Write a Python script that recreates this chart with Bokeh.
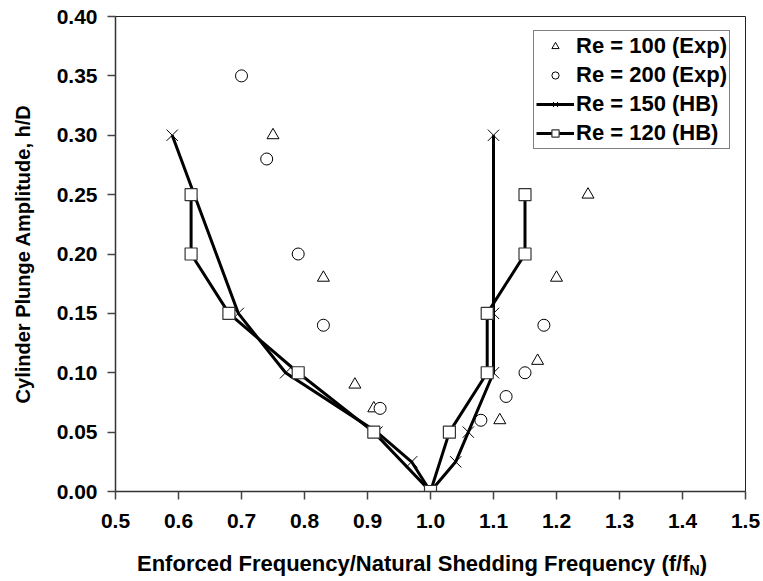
from bokeh.plotting import figure
from bokeh.models import Range1d, Legend, LegendItem, FixedTicker, NumeralTickFormatter, Div
from bokeh.layouts import column
from bokeh.embed import file_html
from bokeh.resources import INLINE

# ---- data ----
re100_x = [0.75, 0.83, 0.88, 0.91, 1.11, 1.17, 1.20, 1.25]
re100_y = [0.30, 0.18, 0.09, 0.07, 0.06, 0.11, 0.18, 0.25]

re200_x = [0.70, 0.74, 0.79, 0.83, 0.92, 1.08, 1.12, 1.15, 1.18]
re200_y = [0.35, 0.28, 0.20, 0.14, 0.07, 0.06, 0.08, 0.10, 0.14]

re150_x = [0.59, 0.695, 0.77, 0.915, 0.97, 1.00, 1.04, 1.06, 1.10, 1.10, 1.10]
re150_y = [0.30, 0.15, 0.10, 0.05, 0.025, 0.00, 0.025, 0.05, 0.10, 0.15, 0.30]

re120_x = [0.62, 0.62, 0.68, 0.79, 0.91, 1.00, 1.03, 1.09, 1.09, 1.15, 1.15]
re120_y = [0.25, 0.20, 0.15, 0.10, 0.05, 0.00, 0.05, 0.10, 0.15, 0.20, 0.25]

x_ticks = [0.5, 0.6, 0.7, 0.8, 0.9, 1.0, 1.1, 1.2, 1.3, 1.4, 1.5]
y_ticks = [0.00, 0.05, 0.10, 0.15, 0.20, 0.25, 0.30, 0.35, 0.40]

labels = ["Re = 100 (Exp)", "Re = 200 (Exp)", "Re = 150 (HB)", "Re = 120 (HB)"]
y_title = "Cylinder Plunge Amplitude, h/D"
x_title_main = "Enforced Frequency/Natural Shedding Frequency (f/f"
x_title_sub = "N"
x_title_end = ")"

FONT = "Liberation Sans"
W = 763
FIG_H = 539
DIV_H = 581 - FIG_H
LEFT, RIGHT, TOP, BOTTOM = 115, 18, 16, 48

p = figure(width=W, height=FIG_H, output_backend="svg", toolbar_location=None,
           x_range=Range1d(0.5, 1.5), y_range=Range1d(0.0, 0.4),
           min_border_left=LEFT, min_border_right=RIGHT,
           min_border_top=TOP, min_border_bottom=BOTTOM)
p.background_fill_color = "white"
p.border_fill_color = "white"
p.outline_line_color = "#222222"
p.outline_line_width = 1
p.xgrid.visible = False
p.ygrid.visible = False

for ax in (p.xaxis[0], p.yaxis[0]):
    ax.axis_line_color = "#333333"
    ax.axis_line_width = 1.5
    ax.major_tick_line_color = "#444444"
    ax.major_tick_line_width = 1.5
    ax.major_tick_in = 0
    ax.major_tick_out = 8
    ax.minor_tick_in = 0
    ax.minor_tick_out = 0
    ax.major_label_text_font = FONT
    ax.major_label_text_font_style = "bold"
    ax.major_label_text_font_size = "21px"
    ax.major_label_text_color = "black"

p.xaxis[0].ticker = FixedTicker(ticks=x_ticks)
p.xaxis[0].formatter = NumeralTickFormatter(format="0.0")
p.xaxis[0].major_label_standoff = 14
p.yaxis[0].ticker = FixedTicker(ticks=y_ticks)
p.yaxis[0].formatter = NumeralTickFormatter(format="0.00")
p.yaxis[0].major_label_standoff = 10

p.yaxis[0].axis_label = y_title
p.yaxis[0].axis_label_text_font = FONT
p.yaxis[0].axis_label_text_font_style = "bold"
p.yaxis[0].axis_label_text_font_size = "20px"
p.yaxis[0].axis_label_text_color = "black"
p.yaxis[0].axis_label_standoff = 20

# ---- series ----
r100 = p.scatter(re100_x, re100_y, marker="triangle", size=12,
                 fill_color="white", line_color="black", line_width=1)
r200 = p.scatter(re200_x, re200_y, marker="circle", size=12,
                 fill_color="white", line_color="black", line_width=1)
l150 = p.line(re150_x, re150_y, line_color="black", line_width=3)
m150 = p.scatter(re150_x, re150_y, marker="x", size=16,
                 line_color="black", line_width=1)
l120 = p.line(re120_x, re120_y, line_color="black", line_width=3)
m120 = p.scatter(re120_x, re120_y, marker="square", size=12,
                 fill_color="white", line_color="#333333", line_width=1.2)

legend = Legend(items=[
    LegendItem(label=labels[0], renderers=[r100]),
    LegendItem(label=labels[1], renderers=[r200]),
    LegendItem(label=labels[2], renderers=[l150, m150]),
    LegendItem(label=labels[3], renderers=[l120, m120]),
])
legend.location = (418, 342)
legend.orientation = "vertical"
legend.glyph_width = 38
legend.glyph_height = 18
legend.label_height = 18
legend.label_standoff = 2
legend.spacing = 3
legend.padding = 2
legend.margin = 0
legend.border_line_color = "black"
legend.border_line_width = 1
legend.background_fill_color = "white"
legend.background_fill_alpha = 1
legend.label_text_font = FONT
legend.label_text_font_style = "bold"
legend.label_text_font_size = "22px"
legend.label_text_color = "black"
p.add_layout(legend, "center")

# ---- x axis title with subscript, as HTML text below the figure ----
title_html = (
    '<div style="padding-left:137px;padding-top:12px;'
    f'text-align:left;white-space:nowrap;font-family:\'{FONT}\';font-weight:bold;'
    'font-size:22px;line-height:25px;color:black;">'
    f'{x_title_main}<sub style="font-size:14px;line-height:0;vertical-align:-4px;">'
    f'{x_title_sub}</sub>{x_title_end}</div>'
)
div = Div(text=title_html, width=W, height=DIV_H, margin=0)

layout = column(p, div, spacing=0)
open("out.html", "w").write(file_html(layout, INLINE))
